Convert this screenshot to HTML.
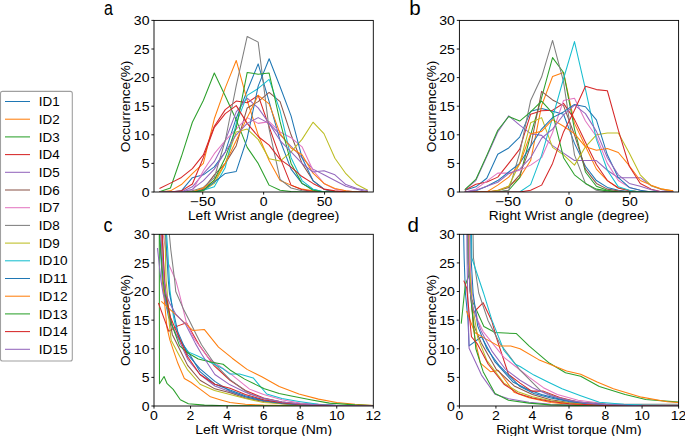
<!DOCTYPE html><html><head><meta charset="utf-8"><style>html,body{margin:0;padding:0;background:#fff;}svg{display:block;}text{font-family:"Liberation Sans",sans-serif;fill:#000;}</style></head><body>
<svg width="685" height="436" viewBox="0 0 685 436">
<rect width="685" height="436" fill="#fff"/>
<clipPath id="cpa"><rect x="154.0" y="20.4" width="219.30" height="171.60"/></clipPath>
<g clip-path="url(#cpa)" fill="none" stroke-width="1.05" stroke-linejoin="round" stroke-linecap="butt">
<polyline stroke="#1f77b4" points="159.48,192.00 170.45,192.00 181.41,190.86 192.38,177.70 203.34,174.84 214.31,166.83 225.27,151.96 236.24,118.21 247.20,90.76 258.17,63.87 269.13,101.62 280.10,140.52 291.06,169.12 302.03,183.42 312.99,189.14 323.96,192.00 334.92,192.00 345.89,192.00 356.85,192.00 367.82,192.00"/>
<polyline stroke="#ff7f0e" points="159.48,192.00 170.45,190.86 181.41,184.56 192.38,173.70 203.34,163.40 214.31,118.78 225.27,87.90 236.24,60.44 247.20,100.48 258.17,134.80 269.13,160.54 280.10,180.56 291.06,185.14 302.03,189.14 312.99,190.86 323.96,192.00 334.92,192.00 345.89,192.00 356.85,192.00 367.82,192.00"/>
<polyline stroke="#2ca02c" points="159.48,191.71 170.45,188.00 181.41,156.54 192.38,122.22 203.34,100.48 214.31,73.02 225.27,95.90 236.24,119.93 247.20,147.38 258.17,163.40 269.13,185.14 280.10,190.28 291.06,191.43 302.03,192.00 312.99,192.00 323.96,192.00 334.92,192.00 345.89,192.00 356.85,192.00 367.82,192.00"/>
<polyline stroke="#d62728" points="159.48,188.57 170.45,183.13 181.41,177.41 192.38,168.55 203.34,154.82 214.31,126.22 225.27,109.63 236.24,101.05 247.20,102.77 258.17,95.33 269.13,126.79 280.10,157.68 291.06,185.14 302.03,189.71 312.99,191.43 323.96,192.00 334.92,192.00 345.89,192.00 356.85,192.00 367.82,192.00"/>
<polyline stroke="#9467bd" points="159.48,192.00 170.45,192.00 181.41,192.00 192.38,186.85 203.34,173.70 214.31,161.68 225.27,140.52 236.24,111.92 247.20,98.19 258.17,107.92 269.13,123.36 280.10,134.80 291.06,146.24 302.03,157.68 312.99,169.12 323.96,174.84 334.92,180.56 345.89,186.28 356.85,189.14 367.82,192.00"/>
<polyline stroke="#8c564b" points="159.48,192.00 170.45,192.00 181.41,192.00 192.38,192.00 203.34,189.14 214.31,174.84 225.27,163.40 236.24,145.67 247.20,107.92 258.17,101.62 269.13,92.47 280.10,101.62 291.06,134.80 302.03,163.40 312.99,180.56 323.96,189.14 334.92,192.00 345.89,192.00 356.85,192.00 367.82,192.00"/>
<polyline stroke="#e377c2" points="159.48,192.00 170.45,192.00 181.41,192.00 192.38,190.86 203.34,170.84 214.31,153.68 225.27,140.52 236.24,129.08 247.20,117.64 258.17,123.36 269.13,121.64 280.10,131.94 291.06,137.66 302.03,146.81 312.99,170.26 323.96,183.42 334.92,189.14 345.89,190.86 356.85,192.00 367.82,192.00"/>
<polyline stroke="#7f7f7f" points="159.48,192.00 170.45,192.00 181.41,192.00 192.38,190.86 203.34,187.42 214.31,177.70 225.27,140.52 236.24,85.61 247.20,36.42 258.17,42.14 269.13,129.08 280.10,179.42 291.06,188.00 302.03,190.86 312.99,192.00 323.96,192.00 334.92,192.00 345.89,192.00 356.85,192.00 367.82,192.00"/>
<polyline stroke="#bcbd22" points="159.48,192.00 170.45,192.00 181.41,192.00 192.38,192.00 203.34,190.86 214.31,183.42 225.27,163.40 236.24,131.94 247.20,129.08 258.17,139.38 269.13,158.82 280.10,161.11 291.06,151.96 302.03,139.38 312.99,122.22 323.96,133.66 334.92,158.25 345.89,173.70 356.85,184.56 367.82,190.28"/>
<polyline stroke="#17becf" points="159.48,192.00 170.45,192.00 181.41,192.00 192.38,192.00 203.34,190.28 214.31,186.85 225.27,167.40 236.24,123.36 247.20,95.33 258.17,88.47 269.13,79.32 280.10,110.78 291.06,157.68 302.03,180.56 312.99,189.14 323.96,192.00 334.92,192.00 345.89,192.00 356.85,192.00 367.82,192.00"/>
<polyline stroke="#1f77b4" points="159.48,192.00 170.45,192.00 181.41,192.00 192.38,192.00 203.34,190.28 214.31,181.99 225.27,173.41 236.24,171.41 247.20,138.23 258.17,86.18 269.13,58.72 280.10,86.75 291.06,115.92 302.03,157.68 312.99,180.56 323.96,189.14 334.92,192.00 345.89,192.00 356.85,192.00 367.82,192.00"/>
<polyline stroke="#ff7f0e" points="159.48,192.00 170.45,192.00 181.41,192.00 192.38,192.00 203.34,188.00 214.31,180.56 225.27,163.40 236.24,140.52 247.20,117.64 258.17,95.33 269.13,103.91 280.10,133.66 291.06,147.96 302.03,154.82 312.99,173.12 323.96,183.42 334.92,188.57 345.89,190.86 356.85,192.00 367.82,192.00"/>
<polyline stroke="#2ca02c" points="159.48,192.00 170.45,192.00 181.41,192.00 192.38,192.00 203.34,190.28 214.31,179.99 225.27,157.68 236.24,127.94 247.20,72.45 258.17,74.17 269.13,73.02 280.10,121.64 291.06,163.40 302.03,183.42 312.99,190.28 323.96,192.00 334.92,192.00 345.89,192.00 356.85,192.00 367.82,192.00"/>
<polyline stroke="#d62728" points="159.48,192.00 170.45,192.00 181.41,190.86 192.38,183.99 203.34,157.68 214.31,127.36 225.27,113.64 236.24,105.63 247.20,123.36 258.17,136.52 269.13,145.10 280.10,159.40 291.06,167.12 302.03,176.56 312.99,183.42 323.96,189.14 334.92,190.86 345.89,192.00 356.85,192.00 367.82,192.00"/>
<polyline stroke="#9467bd" points="159.48,192.00 170.45,192.00 181.41,192.00 192.38,189.14 203.34,180.56 214.31,169.12 225.27,151.96 236.24,134.80 247.20,123.36 258.17,117.64 269.13,123.36 280.10,140.52 291.06,151.96 302.03,163.40 312.99,171.98 323.96,170.84 334.92,174.84 345.89,184.56 356.85,188.57 367.82,190.86"/>
</g>
<rect x="154.0" y="20.4" width="219.30" height="171.60" fill="none" stroke="#000" stroke-width="0.9"/>
<line x1="151.40" y1="192.00" x2="154.0" y2="192.00" stroke="#000" stroke-width="0.9"/>
<text x="149.50" y="196.80" font-size="12.2" text-anchor="end" textLength="7.82" lengthAdjust="spacingAndGlyphs">0</text>
<line x1="151.40" y1="163.40" x2="154.0" y2="163.40" stroke="#000" stroke-width="0.9"/>
<text x="149.50" y="168.20" font-size="12.2" text-anchor="end" textLength="7.82" lengthAdjust="spacingAndGlyphs">5</text>
<line x1="151.40" y1="134.80" x2="154.0" y2="134.80" stroke="#000" stroke-width="0.9"/>
<text x="149.50" y="139.60" font-size="12.2" text-anchor="end" textLength="15.65" lengthAdjust="spacingAndGlyphs">10</text>
<line x1="151.40" y1="106.20" x2="154.0" y2="106.20" stroke="#000" stroke-width="0.9"/>
<text x="149.50" y="111.00" font-size="12.2" text-anchor="end" textLength="15.65" lengthAdjust="spacingAndGlyphs">15</text>
<line x1="151.40" y1="77.60" x2="154.0" y2="77.60" stroke="#000" stroke-width="0.9"/>
<text x="149.50" y="82.40" font-size="12.2" text-anchor="end" textLength="15.65" lengthAdjust="spacingAndGlyphs">20</text>
<line x1="151.40" y1="49.00" x2="154.0" y2="49.00" stroke="#000" stroke-width="0.9"/>
<text x="149.50" y="53.80" font-size="12.2" text-anchor="end" textLength="15.65" lengthAdjust="spacingAndGlyphs">25</text>
<line x1="151.40" y1="20.40" x2="154.0" y2="20.40" stroke="#000" stroke-width="0.9"/>
<text x="149.50" y="25.20" font-size="12.2" text-anchor="end" textLength="15.65" lengthAdjust="spacingAndGlyphs">30</text>
<line x1="202.73" y1="192.0" x2="202.73" y2="194.60" stroke="#000" stroke-width="0.9"/>
<text x="202.73" y="206.00" font-size="12.2" text-anchor="middle" textLength="25.95" lengthAdjust="spacingAndGlyphs">−50</text>
<line x1="263.65" y1="192.0" x2="263.65" y2="194.60" stroke="#000" stroke-width="0.9"/>
<text x="263.65" y="206.00" font-size="12.2" text-anchor="middle" textLength="7.82" lengthAdjust="spacingAndGlyphs">0</text>
<line x1="324.57" y1="192.0" x2="324.57" y2="194.60" stroke="#000" stroke-width="0.9"/>
<text x="324.57" y="206.00" font-size="12.2" text-anchor="middle" textLength="15.65" lengthAdjust="spacingAndGlyphs">50</text>
<text x="263.65" y="219.90" font-size="12.2" text-anchor="middle" textLength="151.4" lengthAdjust="spacingAndGlyphs">Left Wrist angle (degree)</text>
<text transform="translate(130.0,106.40) rotate(-90)" font-size="12.6" text-anchor="middle" textLength="91.5" lengthAdjust="spacingAndGlyphs">Occurrence(%)</text>
<clipPath id="cpb"><rect x="459.4" y="20.4" width="219.20" height="171.60"/></clipPath>
<g clip-path="url(#cpb)" fill="none" stroke-width="1.05" stroke-linejoin="round" stroke-linecap="butt">
<polyline stroke="#1f77b4" points="464.88,190.28 475.84,186.85 486.80,178.27 497.76,154.25 508.72,147.96 519.68,137.09 530.64,111.35 541.60,108.49 552.56,111.35 563.52,114.21 574.48,143.38 585.44,166.26 596.40,180.56 607.36,187.42 618.32,190.28 629.28,191.43 640.24,192.00 651.20,192.00 662.16,192.00 673.12,192.00"/>
<polyline stroke="#ff7f0e" points="464.88,192.00 475.84,192.00 486.80,192.00 497.76,190.28 508.72,186.28 519.68,177.70 530.64,160.54 541.60,105.63 552.56,76.46 563.52,72.45 574.48,123.36 585.44,146.24 596.40,169.12 607.36,180.56 618.32,188.00 629.28,190.28 640.24,192.00 651.20,192.00 662.16,192.00 673.12,192.00"/>
<polyline stroke="#2ca02c" points="464.88,192.00 475.84,192.00 486.80,192.00 497.76,192.00 508.72,190.28 519.68,177.70 530.64,134.80 541.60,97.62 552.56,57.58 563.52,72.45 574.48,129.08 585.44,171.98 596.40,186.28 607.36,190.28 618.32,192.00 629.28,192.00 640.24,192.00 651.20,192.00 662.16,192.00 673.12,192.00"/>
<polyline stroke="#d62728" points="464.88,190.28 475.84,184.28 486.80,181.99 497.76,177.13 508.72,163.40 519.68,149.10 530.64,114.21 541.60,110.78 552.56,110.20 563.52,103.34 574.48,119.36 585.44,142.24 596.40,164.54 607.36,180.56 618.32,188.00 629.28,190.86 640.24,192.00 651.20,192.00 662.16,192.00 673.12,192.00"/>
<polyline stroke="#9467bd" points="464.88,189.71 475.84,180.56 486.80,156.54 497.76,131.94 508.72,115.92 519.68,125.08 530.64,133.66 541.60,135.37 552.56,145.67 563.52,153.10 574.48,160.54 585.44,160.54 596.40,160.54 607.36,170.26 618.32,177.70 629.28,177.70 640.24,177.70 651.20,185.71 662.16,189.71 673.12,191.43"/>
<polyline stroke="#8c564b" points="464.88,192.00 475.84,192.00 486.80,192.00 497.76,190.86 508.72,187.42 519.68,174.84 530.64,146.24 541.60,91.33 552.56,99.91 563.52,105.63 574.48,134.80 585.44,169.12 596.40,183.42 607.36,189.14 618.32,190.86 629.28,192.00 640.24,192.00 651.20,192.00 662.16,192.00 673.12,192.00"/>
<polyline stroke="#e377c2" points="464.88,192.00 475.84,189.14 486.80,181.13 497.76,173.12 508.72,173.12 519.68,170.26 530.64,165.12 541.60,157.68 552.56,132.51 563.52,100.48 574.48,98.19 585.44,121.07 596.40,136.52 607.36,163.40 618.32,180.56 629.28,187.42 640.24,190.28 651.20,192.00 662.16,192.00 673.12,192.00"/>
<polyline stroke="#7f7f7f" points="464.88,192.00 475.84,192.00 486.80,192.00 497.76,192.00 508.72,190.28 519.68,153.10 530.64,100.48 541.60,77.03 552.56,40.42 563.52,81.60 574.48,154.82 585.44,183.42 596.40,190.28 607.36,192.00 618.32,192.00 629.28,192.00 640.24,192.00 651.20,192.00 662.16,192.00 673.12,192.00"/>
<polyline stroke="#bcbd22" points="464.88,192.00 475.84,192.00 486.80,192.00 497.76,190.86 508.72,186.28 519.68,163.40 530.64,122.79 541.60,117.64 552.56,147.38 563.52,154.82 574.48,165.12 585.44,146.81 596.40,134.80 607.36,133.08 618.32,133.08 629.28,153.10 640.24,174.84 651.20,185.71 662.16,189.14 673.12,191.14"/>
<polyline stroke="#17becf" points="464.88,192.00 475.84,192.00 486.80,192.00 497.76,192.00 508.72,192.00 519.68,192.00 530.64,184.56 541.60,155.39 552.56,117.64 563.52,78.74 574.48,41.56 585.44,89.04 596.40,139.38 607.36,170.26 618.32,186.85 629.28,190.28 640.24,192.00 651.20,192.00 662.16,192.00 673.12,192.00"/>
<polyline stroke="#1f77b4" points="464.88,192.00 475.84,190.86 486.80,186.28 497.76,180.56 508.72,171.98 519.68,163.40 530.64,146.24 541.60,129.08 552.56,117.64 563.52,111.92 574.48,104.48 585.44,106.77 596.40,119.93 607.36,154.82 618.32,177.70 629.28,187.42 640.24,190.28 651.20,192.00 662.16,192.00 673.12,192.00"/>
<polyline stroke="#ff7f0e" points="464.88,192.00 475.84,192.00 486.80,192.00 497.76,185.14 508.72,177.13 519.68,163.97 530.64,133.66 541.60,131.37 552.56,119.64 563.52,126.22 574.48,133.66 585.44,146.81 596.40,150.24 607.36,148.53 618.32,152.53 629.28,165.69 640.24,180.56 651.20,185.14 662.16,189.14 673.12,190.86"/>
<polyline stroke="#2ca02c" points="464.88,189.71 475.84,179.42 486.80,155.39 497.76,130.22 508.72,116.50 519.68,121.07 530.64,111.92 541.60,101.05 552.56,113.06 563.52,157.68 574.48,174.84 585.44,183.42 596.40,189.14 607.36,190.86 618.32,192.00 629.28,192.00 640.24,192.00 651.20,192.00 662.16,192.00 673.12,192.00"/>
<polyline stroke="#d62728" points="464.88,192.00 475.84,192.00 486.80,192.00 497.76,192.00 508.72,192.00 519.68,192.00 530.64,190.28 541.60,185.14 552.56,163.40 563.52,131.94 574.48,110.20 585.44,86.18 596.40,89.61 607.36,90.76 618.32,130.22 629.28,166.26 640.24,183.42 651.20,189.14 662.16,192.00 673.12,192.00"/>
<polyline stroke="#9467bd" points="464.88,192.00 475.84,190.28 486.80,186.28 497.76,182.28 508.72,173.70 519.68,169.12 530.64,157.68 541.60,138.23 552.56,129.08 563.52,114.78 574.48,105.06 585.44,113.64 596.40,131.37 607.36,157.68 618.32,174.84 629.28,183.42 640.24,186.28 651.20,189.71 662.16,192.00 673.12,192.00"/>
</g>
<rect x="459.4" y="20.4" width="219.20" height="171.60" fill="none" stroke="#000" stroke-width="0.9"/>
<line x1="456.80" y1="192.00" x2="459.4" y2="192.00" stroke="#000" stroke-width="0.9"/>
<text x="454.90" y="196.80" font-size="12.2" text-anchor="end" textLength="7.82" lengthAdjust="spacingAndGlyphs">0</text>
<line x1="456.80" y1="163.40" x2="459.4" y2="163.40" stroke="#000" stroke-width="0.9"/>
<text x="454.90" y="168.20" font-size="12.2" text-anchor="end" textLength="7.82" lengthAdjust="spacingAndGlyphs">5</text>
<line x1="456.80" y1="134.80" x2="459.4" y2="134.80" stroke="#000" stroke-width="0.9"/>
<text x="454.90" y="139.60" font-size="12.2" text-anchor="end" textLength="15.65" lengthAdjust="spacingAndGlyphs">10</text>
<line x1="456.80" y1="106.20" x2="459.4" y2="106.20" stroke="#000" stroke-width="0.9"/>
<text x="454.90" y="111.00" font-size="12.2" text-anchor="end" textLength="15.65" lengthAdjust="spacingAndGlyphs">15</text>
<line x1="456.80" y1="77.60" x2="459.4" y2="77.60" stroke="#000" stroke-width="0.9"/>
<text x="454.90" y="82.40" font-size="12.2" text-anchor="end" textLength="15.65" lengthAdjust="spacingAndGlyphs">20</text>
<line x1="456.80" y1="49.00" x2="459.4" y2="49.00" stroke="#000" stroke-width="0.9"/>
<text x="454.90" y="53.80" font-size="12.2" text-anchor="end" textLength="15.65" lengthAdjust="spacingAndGlyphs">25</text>
<line x1="456.80" y1="20.40" x2="459.4" y2="20.40" stroke="#000" stroke-width="0.9"/>
<text x="454.90" y="25.20" font-size="12.2" text-anchor="end" textLength="15.65" lengthAdjust="spacingAndGlyphs">30</text>
<line x1="508.11" y1="192.0" x2="508.11" y2="194.60" stroke="#000" stroke-width="0.9"/>
<text x="508.11" y="206.00" font-size="12.2" text-anchor="middle" textLength="25.95" lengthAdjust="spacingAndGlyphs">−50</text>
<line x1="569.00" y1="192.0" x2="569.00" y2="194.60" stroke="#000" stroke-width="0.9"/>
<text x="569.00" y="206.00" font-size="12.2" text-anchor="middle" textLength="7.82" lengthAdjust="spacingAndGlyphs">0</text>
<line x1="629.89" y1="192.0" x2="629.89" y2="194.60" stroke="#000" stroke-width="0.9"/>
<text x="629.89" y="206.00" font-size="12.2" text-anchor="middle" textLength="15.65" lengthAdjust="spacingAndGlyphs">50</text>
<text x="569.00" y="219.90" font-size="12.2" text-anchor="middle" textLength="160.4" lengthAdjust="spacingAndGlyphs">Right Wrist angle (degree)</text>
<text transform="translate(436.3,106.40) rotate(-90)" font-size="12.6" text-anchor="middle" textLength="91.5" lengthAdjust="spacingAndGlyphs">Occurrence(%)</text>
<clipPath id="cpc"><rect x="154.0" y="234.3" width="219.30" height="171.70"/></clipPath>
<g clip-path="url(#cpc)" fill="none" stroke-width="1.05" stroke-linejoin="round" stroke-linecap="butt">
<polyline stroke="#1f77b4" points="159.12,177.07 159.67,234.30 162.22,280.09 164.05,293.82 168.62,317.29 175.93,334.46 187.63,351.06 200.05,371.66 214.86,384.25 230.02,389.97 245.38,395.70 263.65,400.28 281.93,403.14 300.20,404.57 336.75,405.54 373.30,406.00"/>
<polyline stroke="#ff7f0e" points="160.94,177.07 161.31,234.30 162.59,280.09 163.69,293.82 166.98,327.59 169.90,340.18 177.76,363.07 184.34,378.53 191.28,382.53 200.42,389.40 210.47,396.84 219.97,399.70 230.02,402.57 245.38,404.28 263.65,405.14 300.20,405.71 373.30,406.00"/>
<polyline stroke="#2ca02c" points="158.93,-51.87 159.48,383.68 164.05,376.52 167.16,383.68 173.19,389.40 180.32,399.70 188.36,403.71 204.44,405.14 227.10,405.71 373.30,406.00"/>
<polyline stroke="#d62728" points="158.39,302.98 168.80,331.31 177.94,325.87 186.53,322.73 199.69,345.91 214.31,365.94 230.02,380.25 245.38,390.55 263.65,397.99 281.93,401.99 300.20,404.00 336.75,405.43 373.30,406.00"/>
<polyline stroke="#9467bd" points="157.47,248.04 160.94,280.09 163.14,293.82 172.28,325.87 187.63,359.07 200.05,374.52 214.86,385.97 230.02,391.69 245.38,396.84 263.65,400.85 281.93,403.14 300.20,404.57 336.75,405.71 373.30,406.00"/>
<polyline stroke="#8c564b" points="161.86,177.07 162.41,234.30 164.23,280.09 165.33,293.82 172.28,334.46 187.63,365.36 200.05,380.25 214.86,388.83 230.02,392.84 245.38,397.99 263.65,401.42 281.93,403.71 300.20,404.86 336.75,405.71 373.30,406.00"/>
<polyline stroke="#e377c2" points="162.22,177.07 163.14,234.30 167.71,262.34 175.75,280.09 179.40,293.82 186.53,323.01 194.02,338.46 208.82,358.50 230.02,373.38 249.58,389.12 263.65,394.55 281.93,399.70 300.20,403.14 336.75,405.43 373.30,406.00"/>
<polyline stroke="#7f7f7f" points="168.62,177.07 169.35,234.30 170.81,249.75 174.65,280.09 175.75,291.53 183.79,309.85 189.45,320.72 196.22,334.46 201.51,344.76 214.86,364.22 230.02,379.67 249.58,393.98 263.65,398.56 281.93,401.99 300.20,404.00 336.75,405.43 373.30,406.00"/>
<polyline stroke="#bcbd22" points="164.60,177.07 164.97,234.30 166.06,280.09 166.98,289.82 169.35,324.16 171.18,340.18 177.76,352.77 179.95,356.78 187.63,369.94 200.05,384.25 214.49,390.55 230.02,394.55 245.38,398.56 263.65,402.57 300.20,404.86 336.75,405.71 373.30,406.00"/>
<polyline stroke="#17becf" points="166.06,177.07 166.61,234.30 167.71,249.75 169.90,289.82 173.37,316.14 175.02,324.16 180.13,340.18 187.63,351.63 198.23,356.21 210.65,362.50 223.08,368.80 229.66,373.95 239.53,373.95 253.23,377.96 266.76,393.98 281.93,398.56 298.92,401.42 318.48,404.28 336.75,405.43 373.30,406.00"/>
<polyline stroke="#1f77b4" points="165.33,177.07 165.70,234.30 168.25,280.09 169.53,293.82 177.76,331.60 187.63,354.49 200.05,368.80 214.86,381.39 230.02,391.12 245.38,396.84 263.65,400.85 281.93,403.42 300.20,404.86 336.75,405.71 373.30,406.00"/>
<polyline stroke="#ff7f0e" points="161.31,301.26 192.74,330.45 204.44,329.59 218.51,347.05 232.22,358.21 247.02,369.37 261.82,376.81 279.18,386.54 298.92,393.98 318.48,399.13 336.75,402.57 355.02,404.28 373.30,405.43"/>
<polyline stroke="#2ca02c" points="159.12,177.07 159.48,234.30 163.14,280.09 164.97,293.82 172.28,325.87 179.59,345.91 187.63,352.77 198.23,359.07 210.65,361.93 223.08,364.22 230.02,369.94 244.64,379.10 264.38,388.83 279.18,393.41 290.15,395.70 310.43,399.70 329.44,403.14 355.02,404.86 373.30,405.43"/>
<polyline stroke="#d62728" points="161.68,177.07 162.04,234.30 164.60,280.09 165.88,293.82 170.45,317.29 177.76,334.46 187.63,356.78 200.05,374.52 214.86,384.25 230.02,388.26 245.38,394.55 263.65,399.70 281.93,402.85 300.20,404.57 336.75,405.71 373.30,406.00"/>
<polyline stroke="#9467bd" points="160.40,177.07 160.76,234.30 164.05,280.09 165.88,293.82 169.53,302.98 175.56,313.85 185.80,324.73 195.48,343.62 201.51,353.92 214.86,374.52 230.02,384.82 245.38,392.26 263.65,398.56 281.93,401.99 300.20,404.00 336.75,405.54 373.30,406.00"/>
</g>
<rect x="154.0" y="234.3" width="219.30" height="171.70" fill="none" stroke="#000" stroke-width="0.9"/>
<line x1="151.40" y1="406.00" x2="154.0" y2="406.00" stroke="#000" stroke-width="0.9"/>
<text x="149.50" y="410.80" font-size="12.2" text-anchor="end" textLength="7.82" lengthAdjust="spacingAndGlyphs">0</text>
<line x1="151.40" y1="377.38" x2="154.0" y2="377.38" stroke="#000" stroke-width="0.9"/>
<text x="149.50" y="382.18" font-size="12.2" text-anchor="end" textLength="7.82" lengthAdjust="spacingAndGlyphs">5</text>
<line x1="151.40" y1="348.77" x2="154.0" y2="348.77" stroke="#000" stroke-width="0.9"/>
<text x="149.50" y="353.57" font-size="12.2" text-anchor="end" textLength="15.65" lengthAdjust="spacingAndGlyphs">10</text>
<line x1="151.40" y1="320.15" x2="154.0" y2="320.15" stroke="#000" stroke-width="0.9"/>
<text x="149.50" y="324.95" font-size="12.2" text-anchor="end" textLength="15.65" lengthAdjust="spacingAndGlyphs">15</text>
<line x1="151.40" y1="291.53" x2="154.0" y2="291.53" stroke="#000" stroke-width="0.9"/>
<text x="149.50" y="296.33" font-size="12.2" text-anchor="end" textLength="15.65" lengthAdjust="spacingAndGlyphs">20</text>
<line x1="151.40" y1="262.92" x2="154.0" y2="262.92" stroke="#000" stroke-width="0.9"/>
<text x="149.50" y="267.72" font-size="12.2" text-anchor="end" textLength="15.65" lengthAdjust="spacingAndGlyphs">25</text>
<line x1="151.40" y1="234.30" x2="154.0" y2="234.30" stroke="#000" stroke-width="0.9"/>
<text x="149.50" y="239.10" font-size="12.2" text-anchor="end" textLength="15.65" lengthAdjust="spacingAndGlyphs">30</text>
<line x1="154.00" y1="406.0" x2="154.00" y2="408.60" stroke="#000" stroke-width="0.9"/>
<text x="154.00" y="420.00" font-size="12.2" text-anchor="middle" textLength="7.82" lengthAdjust="spacingAndGlyphs">0</text>
<line x1="190.55" y1="406.0" x2="190.55" y2="408.60" stroke="#000" stroke-width="0.9"/>
<text x="190.55" y="420.00" font-size="12.2" text-anchor="middle" textLength="7.82" lengthAdjust="spacingAndGlyphs">2</text>
<line x1="227.10" y1="406.0" x2="227.10" y2="408.60" stroke="#000" stroke-width="0.9"/>
<text x="227.10" y="420.00" font-size="12.2" text-anchor="middle" textLength="7.82" lengthAdjust="spacingAndGlyphs">4</text>
<line x1="263.65" y1="406.0" x2="263.65" y2="408.60" stroke="#000" stroke-width="0.9"/>
<text x="263.65" y="420.00" font-size="12.2" text-anchor="middle" textLength="7.82" lengthAdjust="spacingAndGlyphs">6</text>
<line x1="300.20" y1="406.0" x2="300.20" y2="408.60" stroke="#000" stroke-width="0.9"/>
<text x="300.20" y="420.00" font-size="12.2" text-anchor="middle" textLength="7.82" lengthAdjust="spacingAndGlyphs">8</text>
<line x1="336.75" y1="406.0" x2="336.75" y2="408.60" stroke="#000" stroke-width="0.9"/>
<text x="336.75" y="420.00" font-size="12.2" text-anchor="middle" textLength="15.65" lengthAdjust="spacingAndGlyphs">10</text>
<line x1="373.30" y1="406.0" x2="373.30" y2="408.60" stroke="#000" stroke-width="0.9"/>
<text x="373.30" y="420.00" font-size="12.2" text-anchor="middle" textLength="15.65" lengthAdjust="spacingAndGlyphs">12</text>
<text x="263.65" y="433.90" font-size="12.2" text-anchor="middle" textLength="137.0" lengthAdjust="spacingAndGlyphs">Left Wrist torque (Nm)</text>
<text transform="translate(130.3,320.35) rotate(-90)" font-size="12.6" text-anchor="middle" textLength="91.5" lengthAdjust="spacingAndGlyphs">Occurrence(%)</text>
<clipPath id="cpd"><rect x="459.4" y="234.3" width="219.20" height="171.70"/></clipPath>
<g clip-path="url(#cpd)" fill="none" stroke-width="1.05" stroke-linejoin="round" stroke-linecap="butt">
<polyline stroke="#1f77b4" points="463.05,205.68 464.15,257.99 465.43,292.96 467.99,320.15 469.08,345.91 481.50,336.75 495.02,361.93 512.92,381.96 529.00,389.97 541.60,394.55 559.87,399.13 578.13,402.57 605.53,404.86 642.07,405.71 678.60,406.00"/>
<polyline stroke="#ff7f0e" points="468.90,177.07 469.81,257.99 471.27,292.96 473.10,325.87 475.84,343.04 480.41,363.07 490.45,371.66 498.31,370.52 514.02,392.26 529.00,397.70 550.73,402.57 569.00,404.28 605.53,405.43 678.60,406.00"/>
<polyline stroke="#2ca02c" points="461.23,323.58 465.25,285.24 469.45,273.79 471.46,298.97 483.88,326.45 495.02,332.46 516.39,333.60 529.00,345.91 549.27,363.07 565.53,372.80 580.69,376.24 599.32,386.54 625.08,394.55 645.72,399.42 680.06,402.22"/>
<polyline stroke="#d62728" points="467.62,177.07 468.53,257.99 470.36,291.53 473.47,312.71 483.15,302.69 491.91,321.29 496.30,337.32 508.54,374.52 520.05,383.11 531.74,391.12 543.43,391.12 559.87,397.42 578.13,401.99 605.53,404.57 642.07,405.71 678.60,406.00"/>
<polyline stroke="#9467bd" points="466.34,177.07 467.07,257.99 467.62,291.53 469.08,348.19 481.50,375.09 495.02,394.27 508.54,398.79 529.00,402.22 550.73,404.28 587.27,405.43 678.60,406.00"/>
<polyline stroke="#8c564b" points="467.62,177.07 468.53,262.92 470.36,292.96 474.01,325.87 481.32,343.04 495.93,368.80 514.20,385.97 532.47,394.55 550.73,399.70 569.00,402.57 605.53,404.86 678.60,406.00"/>
<polyline stroke="#e377c2" points="468.53,177.07 469.45,257.99 472.19,292.96 477.67,320.15 483.15,331.60 492.83,343.62 503.97,357.35 517.85,368.23 529.36,377.38 543.43,387.69 557.31,394.55 578.13,400.28 605.53,403.71 642.07,405.43 678.60,406.00"/>
<polyline stroke="#7f7f7f" points="472.55,205.68 473.47,257.99 478.76,292.96 487.90,320.15 499.59,343.04 520.05,370.23 541.05,391.12 559.87,398.56 578.13,401.99 605.53,404.00 642.07,404.28 678.60,404.28"/>
<polyline stroke="#bcbd22" points="467.62,177.07 468.53,257.99 472.19,302.98 477.67,337.32 486.80,360.21 503.97,383.11 517.85,391.69 532.47,396.84 550.73,400.85 569.00,403.14 605.53,405.14 678.60,406.00"/>
<polyline stroke="#17becf" points="470.73,177.07 471.82,257.99 483.51,292.96 491.91,320.15 503.97,350.48 515.30,364.22 520.05,366.51 533.93,375.09 547.99,381.96 562.06,388.83 580.69,395.70 599.32,402.22 623.80,404.28 642.07,405.14 678.60,405.71"/>
<polyline stroke="#1f77b4" points="469.99,177.07 471.09,257.99 473.10,292.96 477.67,325.87 486.80,348.77 499.59,365.94 520.05,386.54 533.93,393.41 550.73,397.99 569.00,401.42 587.27,403.71 605.53,404.86 642.07,405.71 678.60,406.00"/>
<polyline stroke="#ff7f0e" points="466.52,310.99 474.74,332.46 483.88,337.89 498.31,345.91 510.73,345.91 520.05,348.77 538.68,359.64 566.63,371.09 580.69,374.24 597.13,381.96 613.39,388.83 641.52,397.13 667.27,401.82 678.60,402.57"/>
<polyline stroke="#2ca02c" points="466.71,177.07 468.17,262.92 470.36,292.96 475.84,348.77 483.15,371.66 495.02,393.41 508.54,400.28 529.00,403.14 550.73,404.86 587.27,405.71 678.60,406.00"/>
<polyline stroke="#d62728" points="463.78,280.66 466.71,288.10 471.46,336.75 477.12,343.62 488.26,364.22 503.97,384.25 517.85,393.41 532.47,397.99 550.73,401.42 569.00,403.71 605.53,405.43 678.60,406.00"/>
<polyline stroke="#9467bd" points="467.07,177.07 467.99,257.99 470.36,292.96 473.10,308.70 481.32,331.60 492.28,351.63 505.07,368.80 520.05,380.25 532.47,387.69 550.73,395.70 569.00,400.28 587.27,403.14 605.53,404.57 642.07,405.71 678.60,406.00"/>
</g>
<rect x="459.4" y="234.3" width="219.20" height="171.70" fill="none" stroke="#000" stroke-width="0.9"/>
<line x1="456.80" y1="406.00" x2="459.4" y2="406.00" stroke="#000" stroke-width="0.9"/>
<text x="454.90" y="410.80" font-size="12.2" text-anchor="end" textLength="7.82" lengthAdjust="spacingAndGlyphs">0</text>
<line x1="456.80" y1="377.38" x2="459.4" y2="377.38" stroke="#000" stroke-width="0.9"/>
<text x="454.90" y="382.18" font-size="12.2" text-anchor="end" textLength="7.82" lengthAdjust="spacingAndGlyphs">5</text>
<line x1="456.80" y1="348.77" x2="459.4" y2="348.77" stroke="#000" stroke-width="0.9"/>
<text x="454.90" y="353.57" font-size="12.2" text-anchor="end" textLength="15.65" lengthAdjust="spacingAndGlyphs">10</text>
<line x1="456.80" y1="320.15" x2="459.4" y2="320.15" stroke="#000" stroke-width="0.9"/>
<text x="454.90" y="324.95" font-size="12.2" text-anchor="end" textLength="15.65" lengthAdjust="spacingAndGlyphs">15</text>
<line x1="456.80" y1="291.53" x2="459.4" y2="291.53" stroke="#000" stroke-width="0.9"/>
<text x="454.90" y="296.33" font-size="12.2" text-anchor="end" textLength="15.65" lengthAdjust="spacingAndGlyphs">20</text>
<line x1="456.80" y1="262.92" x2="459.4" y2="262.92" stroke="#000" stroke-width="0.9"/>
<text x="454.90" y="267.72" font-size="12.2" text-anchor="end" textLength="15.65" lengthAdjust="spacingAndGlyphs">25</text>
<line x1="456.80" y1="234.30" x2="459.4" y2="234.30" stroke="#000" stroke-width="0.9"/>
<text x="454.90" y="239.10" font-size="12.2" text-anchor="end" textLength="15.65" lengthAdjust="spacingAndGlyphs">30</text>
<line x1="459.40" y1="406.0" x2="459.40" y2="408.60" stroke="#000" stroke-width="0.9"/>
<text x="459.40" y="420.00" font-size="12.2" text-anchor="middle" textLength="7.82" lengthAdjust="spacingAndGlyphs">0</text>
<line x1="495.93" y1="406.0" x2="495.93" y2="408.60" stroke="#000" stroke-width="0.9"/>
<text x="495.93" y="420.00" font-size="12.2" text-anchor="middle" textLength="7.82" lengthAdjust="spacingAndGlyphs">2</text>
<line x1="532.47" y1="406.0" x2="532.47" y2="408.60" stroke="#000" stroke-width="0.9"/>
<text x="532.47" y="420.00" font-size="12.2" text-anchor="middle" textLength="7.82" lengthAdjust="spacingAndGlyphs">4</text>
<line x1="569.00" y1="406.0" x2="569.00" y2="408.60" stroke="#000" stroke-width="0.9"/>
<text x="569.00" y="420.00" font-size="12.2" text-anchor="middle" textLength="7.82" lengthAdjust="spacingAndGlyphs">6</text>
<line x1="605.53" y1="406.0" x2="605.53" y2="408.60" stroke="#000" stroke-width="0.9"/>
<text x="605.53" y="420.00" font-size="12.2" text-anchor="middle" textLength="7.82" lengthAdjust="spacingAndGlyphs">8</text>
<line x1="642.07" y1="406.0" x2="642.07" y2="408.60" stroke="#000" stroke-width="0.9"/>
<text x="642.07" y="420.00" font-size="12.2" text-anchor="middle" textLength="15.65" lengthAdjust="spacingAndGlyphs">10</text>
<line x1="678.60" y1="406.0" x2="678.60" y2="408.60" stroke="#000" stroke-width="0.9"/>
<text x="678.60" y="420.00" font-size="12.2" text-anchor="middle" textLength="15.65" lengthAdjust="spacingAndGlyphs">12</text>
<text x="569.00" y="433.90" font-size="12.2" text-anchor="middle" textLength="145.4" lengthAdjust="spacingAndGlyphs">Right Wrist torque (Nm)</text>
<text transform="translate(436.3,320.35) rotate(-90)" font-size="12.6" text-anchor="middle" textLength="91.5" lengthAdjust="spacingAndGlyphs">Occurrence(%)</text>
<text x="103.9" y="14.8" font-size="20.5" textLength="8.9" lengthAdjust="spacingAndGlyphs">a</text>
<text x="409.3" y="14.8" font-size="20.5">b</text>
<text x="103.6" y="231.7" font-size="20.5" textLength="9.0" lengthAdjust="spacingAndGlyphs">c</text>
<text x="407.6" y="231.6" font-size="20.5">d</text>
<rect x="0.5" y="91.4" width="71.8" height="269.6" rx="2" ry="2" fill="#fff" stroke="#a0a0a0" stroke-width="1.1"/>
<line x1="5" y1="101.50" x2="30" y2="101.50" stroke="#1f77b4" stroke-width="1.05"/>
<text x="38.8" y="106.10" font-size="12.6" textLength="20.92" lengthAdjust="spacingAndGlyphs">ID1</text>
<line x1="5" y1="119.20" x2="30" y2="119.20" stroke="#ff7f0e" stroke-width="1.05"/>
<text x="38.8" y="123.80" font-size="12.6" textLength="20.92" lengthAdjust="spacingAndGlyphs">ID2</text>
<line x1="5" y1="136.90" x2="30" y2="136.90" stroke="#2ca02c" stroke-width="1.05"/>
<text x="38.8" y="141.50" font-size="12.6" textLength="20.92" lengthAdjust="spacingAndGlyphs">ID3</text>
<line x1="5" y1="154.60" x2="30" y2="154.60" stroke="#d62728" stroke-width="1.05"/>
<text x="38.8" y="159.20" font-size="12.6" textLength="20.92" lengthAdjust="spacingAndGlyphs">ID4</text>
<line x1="5" y1="172.30" x2="30" y2="172.30" stroke="#9467bd" stroke-width="1.05"/>
<text x="38.8" y="176.90" font-size="12.6" textLength="20.92" lengthAdjust="spacingAndGlyphs">ID5</text>
<line x1="5" y1="190.00" x2="30" y2="190.00" stroke="#8c564b" stroke-width="1.05"/>
<text x="38.8" y="194.60" font-size="12.6" textLength="20.92" lengthAdjust="spacingAndGlyphs">ID6</text>
<line x1="5" y1="207.70" x2="30" y2="207.70" stroke="#e377c2" stroke-width="1.05"/>
<text x="38.8" y="212.30" font-size="12.6" textLength="20.92" lengthAdjust="spacingAndGlyphs">ID7</text>
<line x1="5" y1="225.40" x2="30" y2="225.40" stroke="#7f7f7f" stroke-width="1.05"/>
<text x="38.8" y="230.00" font-size="12.6" textLength="20.92" lengthAdjust="spacingAndGlyphs">ID8</text>
<line x1="5" y1="243.10" x2="30" y2="243.10" stroke="#bcbd22" stroke-width="1.05"/>
<text x="38.8" y="247.70" font-size="12.6" textLength="20.92" lengthAdjust="spacingAndGlyphs">ID9</text>
<line x1="5" y1="260.80" x2="30" y2="260.80" stroke="#17becf" stroke-width="1.05"/>
<text x="38.8" y="265.40" font-size="12.6" textLength="28.75" lengthAdjust="spacingAndGlyphs">ID10</text>
<line x1="5" y1="278.50" x2="30" y2="278.50" stroke="#1f77b4" stroke-width="1.05"/>
<text x="38.8" y="283.10" font-size="12.6" textLength="28.75" lengthAdjust="spacingAndGlyphs">ID11</text>
<line x1="5" y1="296.20" x2="30" y2="296.20" stroke="#ff7f0e" stroke-width="1.05"/>
<text x="38.8" y="300.80" font-size="12.6" textLength="28.75" lengthAdjust="spacingAndGlyphs">ID12</text>
<line x1="5" y1="313.90" x2="30" y2="313.90" stroke="#2ca02c" stroke-width="1.05"/>
<text x="38.8" y="318.50" font-size="12.6" textLength="28.75" lengthAdjust="spacingAndGlyphs">ID13</text>
<line x1="5" y1="331.60" x2="30" y2="331.60" stroke="#d62728" stroke-width="1.05"/>
<text x="38.8" y="336.20" font-size="12.6" textLength="28.75" lengthAdjust="spacingAndGlyphs">ID14</text>
<line x1="5" y1="349.30" x2="30" y2="349.30" stroke="#9467bd" stroke-width="1.05"/>
<text x="38.8" y="353.90" font-size="12.6" textLength="28.75" lengthAdjust="spacingAndGlyphs">ID15</text>
</svg></body></html>
